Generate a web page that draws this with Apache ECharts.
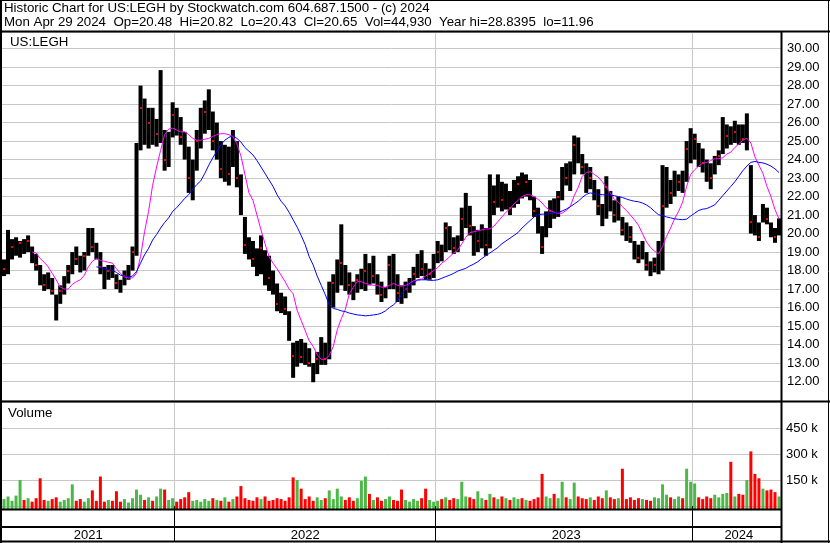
<!DOCTYPE html>
<html>
<head>
<meta charset="utf-8">
<script src="https://cdn.jsdelivr.net/npm/echarts@6/dist/echarts.min.js"></script>
<style>
html,body{margin:0;padding:0;background:#fff;}
#chart{width:830px;height:543px;}
</style>
</head>
<body>
<div id="chart"></div>
<script>
// ---- header text ----
const headerLine1 = 'Historic Chart for US:LEGH by Stockwatch.com 604.687.1500 - (c) 2024';
const headerLine2 = 'Mon Apr 29 2024  Op=20.48  Hi=20.82  Lo=20.43  Cl=20.65  Vol=44,930  Year hi=28.8395  lo=11.96';
const symbolLabel = 'US:LEGH';
const volumeLabel = 'Volume';

// ---- years (sample index where each year starts) ----
const yearLabels = ['2021', '2022', '2023', '2024'];
const yearStartSample = [0, 43, 108, 172];

// ---- price samples (one sample ~ 4 trading days) ----
const highs = [
18.6,20.2,19.7,19.8,19.6,19.7,19.9,19.3,18.9,18.3,
17.8,17.9,17.6,16.7,17.2,17.7,18.3,19.0,19.3,18.8,
19.0,20.3,20.3,19.5,19.0,18.2,18.3,18.3,17.8,17.5,
18.0,18.3,19.3,24.9,28.0,27.3,26.8,26.8,26.2,28.84,
25.6,25.5,27.1,26.8,26.3,25.5,24.7,24.0,25.6,26.8,
27.2,27.8,26.6,26.0,25.0,24.8,24.7,25.6,25.0,23.2,
20.9,19.8,19.6,19.2,19.9,19.1,18.8,18.0,17.3,16.8,
16.6,15.8,14.1,14.2,14.3,14.1,13.8,13.0,13.6,14.4,
14.1,17.4,17.8,18.6,20.5,18.3,17.9,17.4,17.8,18.1,
18.9,18.4,18.8,17.8,17.4,17.1,18.8,18.9,17.8,17.2,
17.4,17.6,18.2,18.9,19.1,18.4,18.1,18.9,19.6,19.4,
20.6,20.4,19.8,19.9,21.4,22.2,21.5,20.4,20.2,20.5,
20.3,23.2,22.6,23.2,22.8,22.7,22.3,22.9,23.1,23.3,
23.2,22.9,22.0,21.4,20.4,21.2,21.8,21.9,22.3,23.6,
23.8,23.9,25.3,25.2,24.3,23.8,23.6,22.9,22.4,21.6,
23.1,22.3,21.8,22.0,20.9,20.6,20.4,19.6,19.4,19.6,
19.0,18.5,18.7,19.6,23.7,23.6,22.9,23.4,23.2,23.4,
25.0,25.7,25.4,24.9,24.6,24.0,23.8,24.2,24.5,26.3,
25.9,25.8,26.1,25.9,25.9,26.5,23.7,21.0,20.6,21.6,
21.4,20.6,20.3,20.82];
const lows = [
17.7,17.8,18.6,18.8,18.7,18.9,19.0,18.4,18.0,17.2,
16.9,17.0,16.7,15.3,16.2,16.7,17.3,17.8,18.3,17.9,
18.0,18.8,19.0,18.6,17.8,17.0,17.5,17.6,17.0,16.8,
17.2,17.5,18.0,18.8,24.5,24.8,24.6,24.8,24.7,24.9,
23.4,23.6,25.2,25.3,24.8,24.0,22.2,21.8,23.4,24.6,
25.4,25.6,24.5,24.0,23.0,22.8,22.6,23.6,22.5,21.0,
18.9,18.6,18.2,17.7,17.8,17.2,16.9,16.7,15.8,15.7,
15.6,14.2,12.2,12.8,13.0,12.9,12.8,11.96,12.4,12.9,
12.9,13.2,16.0,16.8,17.2,16.9,16.7,16.4,16.8,17.0,
16.9,17.2,17.3,16.7,16.3,16.5,17.0,17.0,16.3,16.2,
16.5,16.8,17.2,17.6,17.7,17.5,17.5,17.6,18.4,18.5,
19.0,19.1,18.9,19.0,19.6,20.3,19.9,18.8,19.0,19.2,
18.8,19.2,21.0,21.4,21.2,21.3,21.0,21.4,21.6,21.9,
22.0,21.8,20.9,20.0,18.9,19.8,20.3,20.8,20.9,21.8,
22.6,22.3,23.2,23.8,23.2,22.2,22.4,21.8,21.0,20.4,
20.8,21.2,20.6,20.7,19.9,19.6,19.5,18.6,18.4,18.6,
18.0,17.7,17.9,17.8,18.0,21.4,21.6,22.0,22.3,22.2,
22.8,23.8,24.0,23.6,23.3,22.8,22.4,23.2,23.7,24.3,
24.6,24.8,24.9,24.8,24.9,24.5,20.0,19.9,19.6,20.6,
20.5,19.8,19.5,19.9];
const closes = [
18.1,19.2,19.3,19.5,19.5,19.4,19.6,18.8,18.3,17.5,
17.2,17.5,16.9,15.8,16.9,17.4,18.0,18.7,18.6,18.2,
18.8,19.8,19.3,18.9,18.2,17.4,18.0,17.8,17.3,17.1,
17.7,18.0,19.0,24.6,26.8,25.2,26.0,25.3,25.4,25.5,
24.0,25.0,26.4,25.8,25.2,24.5,23.0,23.5,25.0,26.4,
26.6,27.1,25.0,25.3,23.5,24.2,23.2,25.0,23.0,21.5,
19.4,19.0,18.6,18.4,19.2,17.7,17.6,17.0,16.2,16.0,
15.9,14.6,13.4,13.6,13.3,13.2,13.0,12.4,13.2,13.6,
13.2,16.8,17.3,17.9,18.4,17.3,17.2,16.8,17.5,17.6,
18.0,17.6,17.7,17.1,16.7,16.8,18.3,17.4,16.8,16.6,
17.0,17.3,17.8,18.5,18.1,17.8,17.8,18.6,19.0,18.9,
20.3,19.5,19.2,19.6,20.8,21.2,20.4,19.5,19.6,20.0,
19.4,22.0,21.7,22.6,21.8,22.2,21.4,22.3,22.7,22.4,
22.8,22.1,21.2,20.4,19.3,20.7,21.2,21.0,22.0,23.2,
23.0,23.5,24.8,24.0,23.6,22.7,23.0,22.1,21.5,20.7,
22.5,21.6,21.0,21.3,20.2,19.9,19.8,18.9,18.7,19.2,
18.3,17.9,18.3,18.8,21.5,22.8,22.2,22.5,22.8,22.6,
24.6,24.9,25.1,24.0,23.8,23.3,23.0,23.8,24.2,25.0,
25.3,25.1,25.5,25.3,25.1,25.4,20.6,20.4,19.8,21.2,
20.8,20.0,19.8,20.65];

// ---- moving averages (magenta = short, blue = long) ----
const maShort = [
null,null,null,null,null,null,null,19.0,18.95,18.65,
18.45,18.2,17.85,17.5,17.1,17.0,17.0,17.25,17.4,17.5,
17.75,18.2,18.5,18.65,18.55,18.5,18.45,18.4,18.1,17.85,
17.65,17.6,17.6,17.85,18.75,20.1,21.2,22.6,23.6,24.5,
25.35,25.65,25.7,25.6,25.5,25.5,25.35,25.15,25.05,25.05,
25.1,25.15,25.25,25.35,25.4,25.4,25.35,25.25,24.85,24.2,
23.2,22.2,21.8,21.0,20.2,19.45,18.75,18.4,18.1,17.75,
17.4,17.0,16.75,15.85,15.3,14.75,14.2,13.9,13.45,13.2,
13.2,13.4,13.9,14.8,15.4,15.9,16.75,17.1,17.4,17.4,
17.3,17.25,17.2,17.2,17.1,17.1,17.2,17.3,17.2,17.15,
17.2,17.3,17.45,17.5,17.55,17.7,17.85,18.0,18.15,18.4,
18.55,18.75,18.95,19.1,19.45,19.8,20.05,20.1,20.15,20.2,
20.25,20.25,20.4,20.65,20.9,21.15,21.35,21.6,21.8,22.0,
22.1,22.1,22.0,21.85,21.65,21.4,21.25,21.15,21.1,21.1,
21.25,21.45,22.05,22.5,23.1,23.3,23.35,23.2,23.05,22.8,
22.5,22.2,21.85,21.7,21.45,21.25,21.0,20.75,20.45,20.0,
19.55,19.25,19.05,18.9,19.3,19.85,20.3,20.8,21.2,21.7,
22.55,23.2,23.45,23.65,23.8,23.85,23.95,24.05,24.05,24.1,
24.3,24.4,24.65,24.85,25.05,25.15,24.9,24.15,23.7,23.25,
22.55,22.0,21.3,20.8];
const maLong = [
null,null,null,null,null,null,null,null,null,null,
null,null,null,null,null,null,null,null,null,null,
null,null,null,18.2,18.17,18.1,18.05,18.0,17.9,17.75,
17.7,17.65,17.7,17.95,18.4,18.85,19.2,19.65,19.95,20.3,
20.6,20.85,21.2,21.4,21.65,21.9,22.1,22.4,22.65,22.85,
23.25,23.7,24.1,24.45,24.8,25.05,25.2,25.3,25.15,24.95,
24.65,24.45,24.25,23.95,23.6,23.25,22.9,22.55,22.1,21.75,
21.5,21.15,20.75,20.35,19.9,19.4,18.75,18.3,17.7,17.2,
16.7,16.15,15.95,15.9,15.82,15.78,15.7,15.65,15.6,15.58,
15.55,15.57,15.6,15.63,15.7,15.82,16.0,16.15,16.35,16.7,
17.0,17.25,17.35,17.48,17.5,17.5,17.47,17.47,17.5,17.58,
17.67,17.75,17.85,17.97,18.05,18.12,18.25,18.35,18.48,18.65,
18.8,18.95,19.1,19.25,19.45,19.6,19.75,19.9,20.05,20.3,
20.5,20.7,20.9,21.02,21.05,21.05,21.08,21.1,21.15,21.22,
21.32,21.45,21.6,21.75,21.95,22.12,22.2,22.15,22.12,22.1,
22.1,22.08,22.05,22.0,21.95,21.87,21.8,21.75,21.72,21.65,
21.55,21.4,21.2,21.02,20.97,20.9,20.85,20.8,20.77,20.75,
20.78,20.95,21.1,21.25,21.32,21.35,21.45,21.55,21.8,22.05,
22.3,22.55,22.8,23.1,23.4,23.65,23.85,23.9,23.85,23.82,
23.75,23.65,23.5,23.3];

// ---- volume (thousands of shares) ----
const volumes = [
40,55,30,60,150,35,45,25,45,160,
35,30,40,50,25,35,45,125,30,40,
25,45,90,30,170,25,35,30,85,25,
40,20,45,95,65,35,50,30,55,100,
95,35,45,25,40,50,80,30,35,25,
40,30,45,35,30,50,25,40,55,115,
45,35,30,50,40,55,30,35,45,40,
30,50,165,150,100,40,55,30,50,35,
45,90,40,100,55,35,50,30,45,145,
170,70,35,50,30,40,55,35,30,95,
35,25,40,30,45,100,35,25,30,40,
50,35,45,40,140,55,50,40,85,45,
35,70,50,40,55,45,35,50,40,45,
35,30,40,50,185,55,45,70,45,140,
50,40,135,55,45,40,50,35,55,45,
90,50,40,45,215,40,50,35,45,40,
35,30,50,45,125,65,50,40,55,45,
215,140,130,50,40,55,45,65,50,70,
75,255,55,70,65,150,315,185,160,100,
90,95,80,55];

// ---- build library data ----
const categories = closes.map((_, i) => String(i));
const priceData = closes.map((c, i) => [i, highs[i], lows[i], c]);
const volData = volumes.map((v, i) => [i, v, (i === 0 || closes[i] >= closes[i - 1]) ? 1 : 0]);
const yearMidSample = yearStartSample.map((s, k) => Math.floor((s + (k + 1 < yearStartSample.length ? yearStartSample[k + 1] : closes.length)) / 2));
const isYearStart = (idx) => yearStartSample.indexOf(idx) > 0;

const FONT = 'Liberation Sans, Arial, sans-serif';
const GRID_COLOR = '#c8c8c8';

const chart = echarts.init(document.getElementById('chart'), null, {renderer: 'canvas'});

function priceRender(params, api) {
  const i = api.value(0);
  const pHi = api.coord([i, api.value(1)]);
  const pLo = api.coord([i, api.value(2)]);
  const pCl = api.coord([i, api.value(3)]);
  const w = api.size([1, 0])[0];
  const children = [{
    type: 'rect',
    shape: {x: pHi[0] - w / 2, y: pHi[1], width: w, height: Math.max(1, pLo[1] - pHi[1])},
    style: {fill: '#000'}
  }];
  if (i % 2 === 0) {
    children.push({
      type: 'rect',
      shape: {x: Math.round(pCl[0]) - 1, y: Math.round(pCl[1]) - 1, width: 2, height: 2},
      style: {fill: '#ff0000'}
    });
  }
  return {type: 'group', children: children};
}

function volRender(params, api) {
  const i = api.value(0);
  const top = api.coord([i, api.value(1)]);
  const cs = params.coordSys;
  const bottom = cs.y + cs.height + 3;
  return {
    type: 'rect',
    shape: {x: top[0] - 1.5, y: top[1], width: 3, height: bottom - top[1]},
    style: {fill: api.value(2) ? '#4cb848' : '#ff0000'}
  };
}

function hLine(y, x1, x2, w) {
  return {type: 'line', silent: true, z: 100, shape: {x1: x1, y1: y, x2: x2, y2: y}, style: {stroke: '#000', lineWidth: w}};
}
function vLine(x, y1, y2, w) {
  return {type: 'line', silent: true, z: 100, shape: {x1: x, y1: y1, x2: x, y2: y2}, style: {stroke: '#000', lineWidth: w}};
}

const option = {
  animation: false,
  backgroundColor: '#ffffff',
  title: [
    {text: headerLine1 + '\n' + headerLine2, left: 4, top: 1, padding: 0,
     textStyle: {fontFamily: FONT, fontSize: 13.3, fontWeight: 'normal', color: '#000', lineHeight: 14}},
    {text: symbolLabel, left: 10, top: 35, padding: 0,
     textStyle: {fontFamily: FONT, fontSize: 13.3, fontWeight: 'normal', color: '#000', lineHeight: 14}},
    {text: volumeLabel, left: 8, top: 406, padding: 0,
     textStyle: {fontFamily: FONT, fontSize: 13.3, fontWeight: 'normal', color: '#000', lineHeight: 14}}
  ],
  grid: [
    {left: 2, top: 32, width: 779, height: 368},
    {left: 2, top: 402, width: 779, height: 104}
  ],
  xAxis: [
    {type: 'category', gridIndex: 0, data: categories, boundaryGap: true,
     axisLine: {show: false}, axisTick: {show: false}, axisLabel: {show: false},
     splitLine: {show: true, interval: (idx) => isYearStart(idx), lineStyle: {color: GRID_COLOR, width: 1}}},
    {type: 'category', gridIndex: 1, data: categories, boundaryGap: true,
     axisLine: {show: false},
     axisTick: {show: true, interval: (idx) => isYearStart(idx), length: 36, lineStyle: {color: '#000', width: 1}},
     axisLabel: {show: true, interval: (idx) => yearMidSample.indexOf(idx) >= 0,
                 formatter: (v, idx) => {const k = yearMidSample.indexOf(Number(v)); return k >= 0 ? yearLabels[k] : '';},
                 margin: 23, fontFamily: FONT, fontSize: 13, color: '#000'},
     splitLine: {show: true, interval: (idx) => isYearStart(idx), lineStyle: {color: GRID_COLOR, width: 1}}}
  ],
  yAxis: [
    {type: 'value', gridIndex: 0, position: 'right', min: 11, max: 30.9, interval: 1,
     axisLine: {show: false}, axisTick: {show: false},
     axisLabel: {margin: 6, fontFamily: FONT, fontSize: 13, color: '#000',
                 formatter: (v) => (v >= 12 && v <= 30) ? v.toFixed(2) : ''},
     splitLine: {show: true, lineStyle: {color: GRID_COLOR, width: 1}}},
    {type: 'value', gridIndex: 1, position: 'right', min: 0, max: 600, interval: 150,
     axisLine: {show: false}, axisTick: {show: false},
     axisLabel: {margin: 5, fontFamily: FONT, fontSize: 13, color: '#000',
                 formatter: (v) => (v > 0 && v < 600) ? v + ' k' : ''},
     splitLine: {show: true, lineStyle: {color: GRID_COLOR, width: 1}}}
  ],
  series: [
    {type: 'custom', name: 'price', xAxisIndex: 0, yAxisIndex: 0, data: priceData,
     encode: {x: 0, y: [1, 2, 3]}, renderItem: priceRender, clip: true, z: 3},
    {type: 'line', name: 'MA short', xAxisIndex: 0, yAxisIndex: 0, data: maShort,
     showSymbol: false, symbol: 'none', connectNulls: false, z: 4,
     lineStyle: {color: '#ff00ff', width: 1}},
    {type: 'line', name: 'MA long', xAxisIndex: 0, yAxisIndex: 0, data: maLong,
     showSymbol: false, symbol: 'none', connectNulls: false, z: 4,
     lineStyle: {color: '#0000ff', width: 1}},
    {type: 'custom', name: 'volume', xAxisIndex: 1, yAxisIndex: 1, data: volData,
     encode: {x: 0, y: 1}, renderItem: volRender, clip: false, z: 3}
  ],
  graphic: [
    hLine(0.5, 0, 830, 1),
    vLine(1, 0, 543, 2),
    vLine(828.5, 0, 543, 1),
    hLine(541.5, 0, 830, 2),
    hLine(31.5, 0, 830, 2),
    vLine(781.5, 31, 543, 2),
    hLine(401.5, 0, 830, 2),
    hLine(509.5, 0, 782, 2),
    hLine(527, 0, 782, 2)
  ]
};

chart.setOption(option);
</script>
</body>
</html>
